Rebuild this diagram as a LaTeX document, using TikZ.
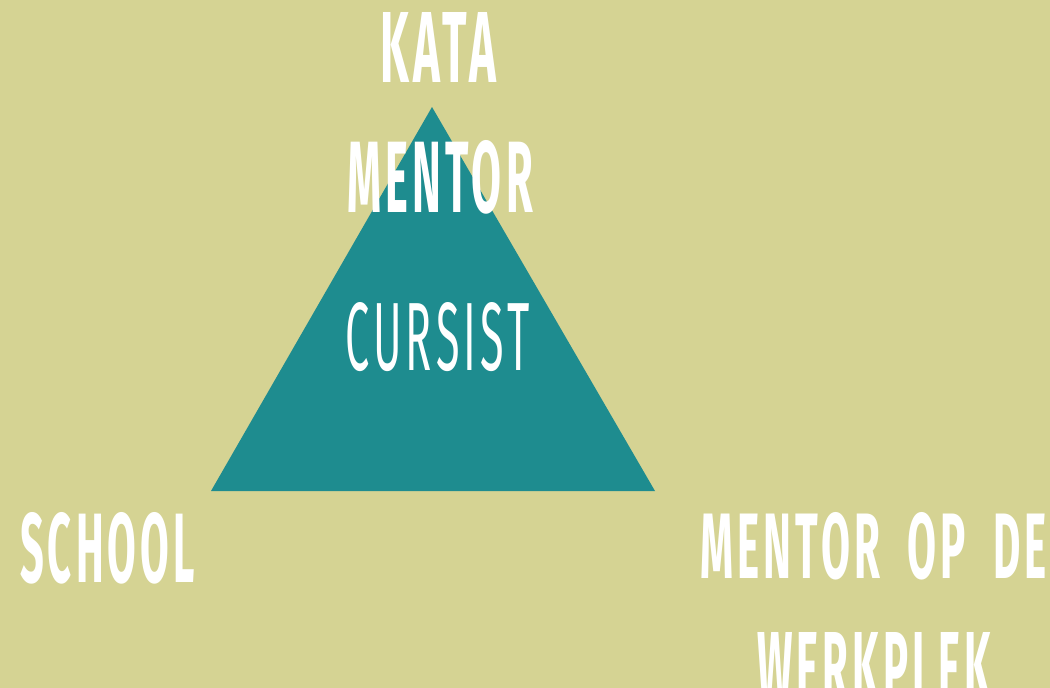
\documentclass[tikz,border=0pt]{standalone}
\usepackage{fontspec}
\setmainfont{Fira Sans}
\usepackage{graphicx}
\definecolor{bgcol}{HTML}{D5D393}
\definecolor{tricol}{HTML}{1E8C8F}
\tikzset{lbl/.style={anchor=north west,inner sep=0pt,outer sep=0pt,text=white}}
\newcommand{\fitbold}[3]{\resizebox{#1pt}{#2pt}{\addfontfeature{LetterSpace=10}\bfseries #3}}
\newcommand{\fitreg}[3]{\resizebox{#1pt}{#2pt}{\addfontfeature{LetterSpace=10}#3}}
\begin{document}
\begin{tikzpicture}[x=1pt,y=-1pt]
\fill[bgcol] (0,0) rectangle (1050,688);
\useasboundingbox (0,0) rectangle (1050,688);
\fill[tricol] (432,107) -- (211,491) -- (655,491) -- cycle;
\node[lbl] (kata) at (380,12) {\fitbold{116}{70}{KATA}};
\node[lbl] (mentor) at (347,140) {\fitbold{186}{72}{MENTOR}};
\node[lbl] (cursist) at (345,302) {\fitreg{185}{68}{CURSIST}};
\node[lbl] (school) at (20,512) {\fitbold{175}{70}{SCHOOL}};
\node[lbl] (mentorop) at (700,512) {\fitbold{347}{66}{MENTOR\hspace{0.65em}OP\hspace{0.65em}DE}};
\node[lbl] (werkplek) at (757,632) {\fitbold{234}{70}{WERKPLEK}};
\end{tikzpicture}
\end{document}
